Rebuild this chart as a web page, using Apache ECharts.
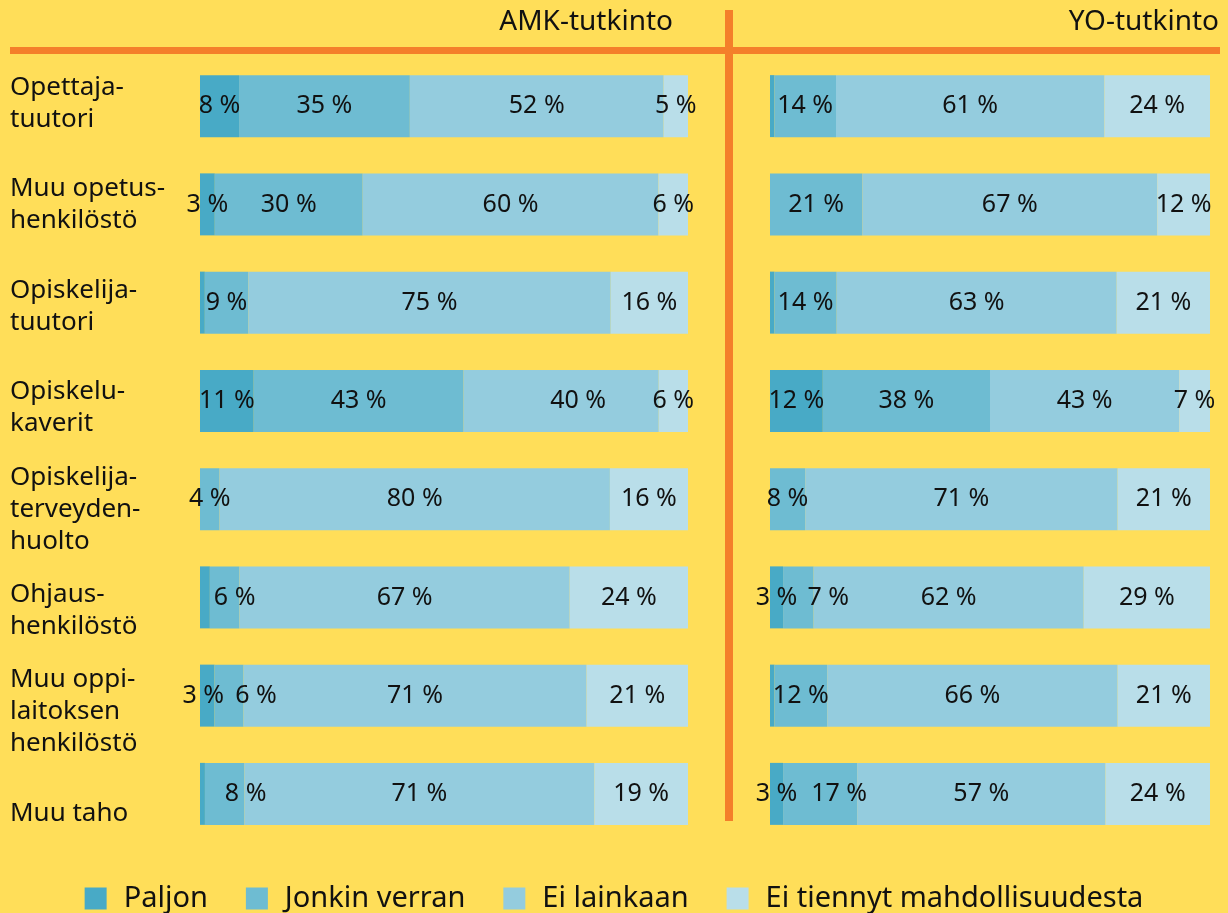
<!DOCTYPE html>
<html>
<head>
<meta charset="utf-8">
<title>AMK / YO</title>
<script src="https://cdn.jsdelivr.net/npm/echarts@6/dist/echarts.min.js"></script>
<style>
    html, body { margin: 0; padding: 0; background: #FFDE59; }
    #chart { width: 1228px; height: 913px; }
</style>
</head>
<body>
<div id="chart"></div>
<script>
    // rivit
    const categories = [
        'Opettaja-\ntuutori',
        'Muu opetus-\nhenkilöstö',
        'Opiskelija-\ntuutori',
        'Opiskelu-\nkaverit',
        'Opiskelija-\nterveyden-\nhuolto',
        'Ohjaus-\nhenkilöstö',
        'Muu oppi-\nlaitoksen\nhenkilöstö',
        'Muu taho'
    ];
    const seriesNames = ['Paljon', 'Jonkin verran', 'Ei lainkaan', 'Ei tiennyt mahdollisuudesta'];

    // AMK-tutkinto (%)
    const amkPaljon = [8, 3, 1, 11, 0, 2, 3, 1];
    const amkJonkin = [35, 30, 9, 43, 4, 6, 6, 8];
    const amkEiLainkaan = [52, 60, 75, 40, 80, 67, 71, 71];
    const amkEiTiennyt = [5, 6, 16, 6, 16, 24, 21, 19];

    // YO-tutkinto (%)
    const yoPaljon = [1, 0, 1, 12, 0, 3, 1, 3];
    const yoJonkin = [14, 21, 14, 38, 8, 7, 12, 17];
    const yoEiLainkaan = [61, 67, 63, 43, 71, 62, 66, 57];
    const yoEiTiennyt = [24, 12, 21, 7, 21, 29, 21, 24];

    const colors = ['#48AAC6', '#6EBCD2', '#94CCDE', '#B9DEE9'];
    const font = 'Noto Sans';

    // tekstien siirto vaakasuunnassa (px): sarja -> rivi -> siirto
    const labelShift = {
        amk: { 0: { 6: -4 }, 1: { 5: 10, 6: 27, 7: 21 }, 2: { 3: 17 } },
        yo: { 1: { 5: 30, 7: 19 } }
    };

    function makeSeries(lists, idx, stack) {
        // pyöristyksen takia rivit eivät aina ole tasan 100, palkit venytetään täyteen leveyteen
        const totals = categories.map((c, j) => lists.reduce((s, l) => s + l[j], 0));
        const shifts = labelShift[stack];
        return lists.map((list, i) => ({
            name: seriesNames[i],
            type: 'bar',
            stack: stack,
            xAxisIndex: idx,
            yAxisIndex: idx,
            barWidth: 62,
            itemStyle: { color: colors[i] },
            label: {
                show: true,
                position: 'inside',
                color: '#111',
                fontFamily: font,
                fontSize: 25,
                // pienimmille osuuksille ei tekstiä
                formatter: p => p.data.raw >= 3 ? p.data.raw + ' %' : ''
            },
            emphasis: { disabled: true },
            data: list.map((v, j) => {
                const dx = (shifts[i] && shifts[i][j]) || 0;
                return { value: v * 100 / totals[j], raw: v, label: { offset: [dx, 0] } };
            })
        }));
    }

    const myChart = echarts.init(document.getElementById('chart'));

    const option = {
        backgroundColor: '#FFDE59',
        animation: false,
        textStyle: { fontFamily: font },
        title: [{
            text: 'AMK-tutkinto',
            right: 550,
            top: 3,
            textStyle: { fontSize: 28, fontWeight: 'normal', color: '#111', fontFamily: font }
        }, {
            text: 'YO-tutkinto',
            right: 4,
            top: 3,
            textStyle: { fontSize: 28, fontWeight: 'normal', color: '#111', fontFamily: font }
        }],
        graphic: [{
            type: 'rect',
            shape: { x: 10, y: 47, width: 1210, height: 7 },
            style: { fill: '#F47F2A' }
        }, {
            type: 'rect',
            shape: { x: 725, y: 10, width: 8, height: 811 },
            style: { fill: '#F47F2A' }
        }],
        legend: {
            data: seriesNames,
            left: 'center',
            top: 879,
            icon: 'rect',
            itemWidth: 22,
            itemHeight: 22,
            itemGap: 38,
            textStyle: { fontSize: 29, color: '#111', fontFamily: font, padding: [0, 0, 0, 12] }
        },
        grid: [
            { left: 200, width: 488, top: 57, height: 786 },
            { left: 770, width: 440, top: 57, height: 786 },
            // vain rivien nimet
            { left: 10, width: 10, top: 53, height: 811 }
        ],
        xAxis: [
            { gridIndex: 0, type: 'value', min: 0, max: 100, show: false },
            { gridIndex: 1, type: 'value', min: 0, max: 100, show: false },
            { gridIndex: 2, type: 'value', min: 0, max: 100, show: false }
        ],
        yAxis: [
            { gridIndex: 0, type: 'category', data: categories, inverse: true, show: false },
            { gridIndex: 1, type: 'category', data: categories, inverse: true, show: false },
            {
                gridIndex: 2,
                type: 'category',
                data: categories,
                inverse: true,
                axisLine: { show: false },
                axisTick: { show: false },
                splitLine: { show: false },
                axisLabel: {
                    inside: true,
                    margin: 0,
                    align: 'left',
                    color: '#111',
                    fontSize: 26,
                    lineHeight: 32,
                    fontFamily: font
                }
            }
        ],
        series: [].concat(
            makeSeries([amkPaljon, amkJonkin, amkEiLainkaan, amkEiTiennyt], 0, 'amk'),
            makeSeries([yoPaljon, yoJonkin, yoEiLainkaan, yoEiTiennyt], 1, 'yo')
        )
    };

    myChart.setOption(option);
</script>
</body>
</html>
